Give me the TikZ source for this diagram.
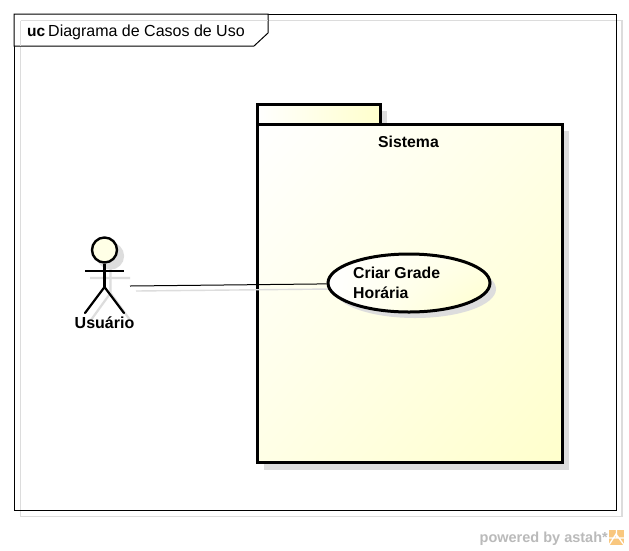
\documentclass[tikz,border=0pt]{standalone}
\usepackage{fontspec}
\setmainfont{Liberation Sans}
\usetikzlibrary{shapes.geometric,calc,shadings}
\definecolor{shadowgray}{HTML}{DDDDDD}
\definecolor{framegray}{HTML}{DCDCDC}
\definecolor{noteyellow}{HTML}{FFFFCC}
\definecolor{midyellow}{HTML}{FFFFE6}
\definecolor{logoorange}{HTML}{F9C77E}
\tikzset{
  x=1pt,y=-1pt,
  outline/.style={draw=black,line width=3pt,line join=miter},
  thinline/.style={draw=black,line width=1pt},
  stick/.style={draw=black,line width=2.2pt,line cap=round},
  stickshadow/.style={draw=shadowgray,line width=2.2pt},
  boldlabel/.style={font=\fontsize{15.8}{20}\selectfont\bfseries,text=black,inner sep=0pt},
}
\begin{document}
\begin{tikzpicture}
\useasboundingbox[fill=white] (0,0) rectangle (629,550);
% frame
\draw[framegray,line width=1.8pt] (20.5,20.5) rectangle (622,516.5);
\draw[thinline,fill=white] (14,14) rectangle (616,510);
\draw[framegray,line width=1.8pt] (20.5,46) -- (20.5,510);
\draw[framegray,line width=1.8pt] (268,20.5) -- (616,20.5);
\draw[thinline,fill=white] (14,14) -- (268,14) -- (268,33) -- (254,46) -- (14,46) -- cycle;
\draw[framegray,line width=1.2pt] (20.5,20.5) -- (20.5,46);
\draw[framegray,line width=1.2pt] (20.5,20.5) -- (268,20.5);
\node[anchor=base west,inner sep=0pt,font=\fontsize{15.5}{18}\selectfont\bfseries] (uc) at (27,36) {uc};
\node[anchor=base west,inner sep=0pt,font=\fontsize{16}{18}\selectfont] (title) at (48,36) {Diagrama de Casos de Uso};
% package shadow
\fill[shadowgray] (264,111) rectangle (387,131);
\fill[shadowgray] (264,131) rectangle (569,470);
% package tab
\shade[upper left=white,lower left=white,upper right=noteyellow,lower right=noteyellow] (257,104) rectangle (380,124);
\draw[outline] (257,104) rectangle (380,124);
% package body
\shade[upper left=white,upper right=midyellow,lower left=midyellow,lower right=noteyellow] (257,124) rectangle (562,462);
\draw[outline] (257,124) rectangle (562,462);
\node[boldlabel] (sistema) at (408.5,142) {Sistema};
% connector shadow
\coordinate (actorshadowend) at (136,291);
\coordinate (caseshadowend) at (331,289);
\draw[shadowgray,line width=1.4pt] (actorshadowend) -- (caseshadowend);
% use case
\fill[shadowgray] (415,289) ellipse (81 and 29);
\shade[upper left=white,lower left=white,upper right=midyellow,lower right=noteyellow] (409,283) ellipse (81 and 29);
\node[ellipse,draw=black,line width=3pt,minimum width=162pt,minimum height=58pt,inner sep=0pt] (usecase) at (409,283) {};
\node[boldlabel,anchor=base west] (caselinea) at (353,278.5) {Criar Grade};
\node[boldlabel,anchor=base west] (caselineb) at (353,298.5) {Horária};
% actor shadow
\draw[stickshadow,fill=shadowgray] (110.5,256) circle (12.5);
\draw[stickshadow] (110.5,268) -- (110.5,293) (90,278) -- (130,278) (110.5,293) -- (91,320) (110.5,293) -- (130,320);
% actor
\node[circle,draw=black,line width=2.4pt,minimum size=25pt,inner sep=0pt,fill=midyellow] (head) at (104.5,250) {};
\coordinate (hip) at (104.5,287);
\coordinate (armleft) at (85,271);
\coordinate (armright) at (124,271);
\coordinate (footleft) at (85,313);
\coordinate (footright) at (124,313);
\draw[stick,line cap=butt] (head) -- (hip);
\draw[stick,line cap=butt] (armleft) -- (armright);
\draw[stick] (footleft) -- (hip) -- (footright);
\node[boldlabel,font=\fontsize{16}{20}\selectfont\bfseries] (usuario) at (104.5,323) {Usuário};
% connector
\coordinate (actorend) at (130,286);
\draw[thinline] (actorend) -- (usecase);
% branding
\node[anchor=base east,inner sep=0pt,text=black!27,font=\fontsize{14.5}{16}\selectfont\bfseries] (brand) at (608,542) {powered by astah*};
\fill[logoorange] (609,530) rectangle (624,545);
\draw[white,line width=1.3pt] (609,545) -- (616,534) -- (624,545) (609,538) -- (624,538) (616.5,530) -- (616.5,538);
\end{tikzpicture}
\end{document}
